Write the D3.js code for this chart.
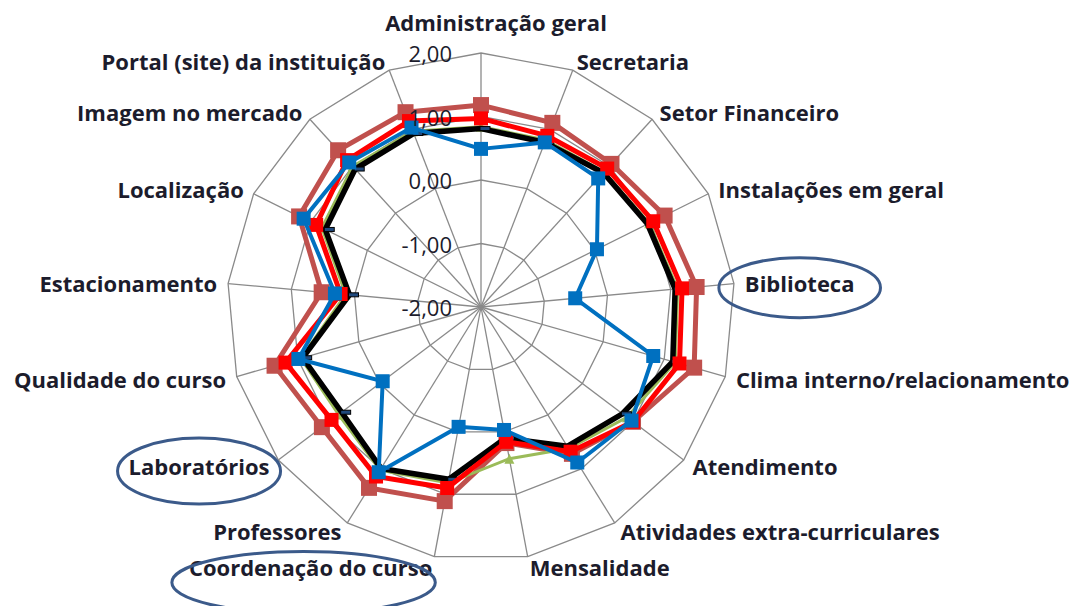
<!DOCTYPE html>
<html>
<head>
<meta charset="utf-8">
<script src="https://cdn.jsdelivr.net/npm/d3@7"></script>
<style>
  body { margin: 0; background: #fff; }
  svg { display: block; }
  text { font-family: "Open Sans", sans-serif; }
</style>
</head>
<body>
<svg></svg>
<script>
const CATEGORIES = [
    'Administração geral', 'Secretaria', 'Setor Financeiro', 'Instalações em geral',
    'Biblioteca', 'Clima interno/relacionamento', 'Atendimento', 'Atividades extra-curriculares',
    'Mensalidade', 'Coordenação do curso', 'Professores', 'Laboratórios',
    'Qualidade do curso', 'Estacionamento', 'Localização', 'Imagem no mercado',
    'Portal (site) da instituição'
];

const TICKS = [-2, -1, 0, 1, 2];

// series, in drawing order
const SERIE_MARROM = [1.18, 1.11, 1.05, 1.23, 1.41, 1.49, 1.00, 0.72, 0.18, 1.11, 1.35, 1.14, 1.38, 0.52, 1.20, 1.34, 1.29];
const SERIE_VERDE  = [0.84, 0.82, 0.88, 0.96, 1.11, 1.18, 0.88, 0.62, 0.43, 0.82, 1.02, 0.81, 0.95, 0.14, 0.80, 1.00, 0.97];
const SERIE_PRETA  = [0.81, 0.78, 0.86, 0.93, 1.07, 1.14, 0.79, 0.58, 0.10, 0.76, 0.99, 0.75, 0.92, 0.08, 0.74, 0.94, 0.93];
const SERIE_VERMELHA = [0.97, 0.89, 0.95, 1.03, 1.18, 1.25, 1.00, 0.68, 0.16, 0.90, 1.14, 0.95, 1.20, 0.22, 0.90, 1.13, 1.14];
const SERIE_AZUL   = [0.49, 0.78, 0.74, 0.04, -0.51, 0.82, 0.97, 0.88, -0.03, -0.08, 1.06, -0.06, 0.99, 0.31, 1.12, 1.08, 1.03];

const HIGHLIGHTED = ['Biblioteca', 'Laboratórios', 'Coordenação do curso'];

const WIDTH = 1075;
const HEIGHT = 606;
const CENTER = { x: 481, y: 307 };
const RADIUS = 254;

const series = [
    { values: SERIE_MARROM, color: '#C0504D', width: 5, marker: 'square', size: 16 },
    { values: SERIE_VERDE, color: '#9BBB59', width: 3, marker: 'triangle', size: 10 },
    { values: SERIE_PRETA, color: '#000000', width: 5.5, marker: 'dash', size: 10 },
    { values: SERIE_VERMELHA, color: '#FF0000', width: 5, marker: 'square', size: 14 },
    { values: SERIE_AZUL, color: '#0070C0', width: 4, marker: 'square', size: 14 }
];

const r = d3.scaleLinear().domain([-2, 2]).range([0, RADIUS]);
const angle = d3.scaleLinear().domain([0, CATEGORIES.length]).range([0, 2 * Math.PI]);

const svg = d3.select('svg')
.attr('width', WIDTH)
.attr('height', HEIGHT);

const chart = svg.append('g')
.attr('transform', `translate(${CENTER.x}, ${CENTER.y})`);

const px = (i, v) => r(v) * Math.sin(angle(i));
const py = (i, v) => -r(v) * Math.cos(angle(i));

// grid rings
const ring = d3.lineRadial()
.angle((d, i) => angle(i))
.radius(d => r(d))
.curve(d3.curveLinearClosed);

chart.selectAll('.ring')
.data(TICKS.slice(1))
.enter()
.append('path')
.attr('d', t => ring(CATEGORIES.map(() => t)))
.attr('fill', 'none')
.attr('stroke', '#8a8a8a')
.attr('stroke-width', 1.3);

// spokes
chart.selectAll('.spoke')
.data(CATEGORIES)
.enter()
.append('line')
.attr('x1', 0).attr('y1', 0)
.attr('x2', (d, i) => px(i, 2))
.attr('y2', (d, i) => py(i, 2))
.attr('stroke', '#8a8a8a')
.attr('stroke-width', 1.3);

// series lines + markers
const line = d3.lineRadial()
.angle((d, i) => angle(i))
.radius(d => r(d))
.curve(d3.curveLinearClosed);

series.forEach(s => {
    chart.append('path')
    .attr('d', line(s.values))
    .attr('fill', 'none')
    .attr('stroke', s.color)
    .attr('stroke-width', s.width)
    .attr('stroke-linejoin', 'miter');

    const g = chart.append('g');
    s.values.forEach((v, i) => {
        const x = px(i, v), y = py(i, v);
        if (s.marker === 'square') {
            g.append('rect')
            .attr('x', x - s.size / 2).attr('y', y - s.size / 2)
            .attr('width', s.size).attr('height', s.size)
            .attr('fill', s.color);
        } else if (s.marker === 'triangle') {
            const h = s.size;
            g.append('path')
            .attr('d', `M${x},${y - h / 2}L${x + h / 2},${y + h / 2}L${x - h / 2},${y + h / 2}Z`)
            .attr('fill', s.color);
        } else {
            g.append('rect')
            .attr('x', x - 1).attr('y', y - 2)
            .attr('width', s.size).attr('height', 4)
            .attr('fill', '#1F497D')
            .attr('stroke', '#000')
            .attr('stroke-width', 1);
        }
    });
});

// category labels
chart.selectAll('.cat')
.data(CATEGORIES)
.enter()
.append('text')
.attr('class', 'cat')
.text(d => d)
.attr('x', (d, i) => i === 0 ? 15 : px(i, 2) + Math.sin(angle(i)) * 11)
.attr('y', (d, i) => i === 0 ? py(i, 2) - 31 : py(i, 2) - Math.cos(angle(i)) * 10)
.attr('text-anchor', (d, i) => {
    const s = Math.sin(angle(i));
    return Math.abs(s) < 0.05 ? 'middle' : (s > 0 ? 'start' : 'end');
})
.attr('dominant-baseline', 'central')
.attr('font-size', 22)
.attr('font-weight', 'bold')
.attr('fill', '#1c1c2c');

// highlight ellipses
const ellipseFit = { 'Biblioteca': [26, 30, 5], 'Laboratórios': [11, 33, 5], 'Coordenação do curso': [10, 31, 16] };
chart.selectAll('.cat')
.filter(d => HIGHLIGHTED.includes(d))
.each(function(d) {
    const b = this.getBBox();
    const [padX, ry, dy] = ellipseFit[d];
    chart.append('ellipse')
    .attr('cx', b.x + b.width / 2 - (d === 'Coordenação do curso' ? 7 : 0))
    .attr('cy', b.y + b.height / 2 + dy)
    .attr('rx', b.width / 2 + padX)
    .attr('ry', ry)
    .attr('fill', 'none')
    .attr('stroke', '#3B5A8A')
    .attr('stroke-width', 3);
});

// tick labels
chart.selectAll('.tick')
.data(TICKS)
.enter()
.append('text')
.text(t => d3.format('.2f')(t).replace('.', ',').replace('−', '-'))
.attr('x', -29)
.attr('y', t => -r(t))
.attr('text-anchor', 'end')
.attr('dominant-baseline', 'central')
.attr('font-size', 22)
.attr('fill', '#1c1c2c');
</script>
</body>
</html>
